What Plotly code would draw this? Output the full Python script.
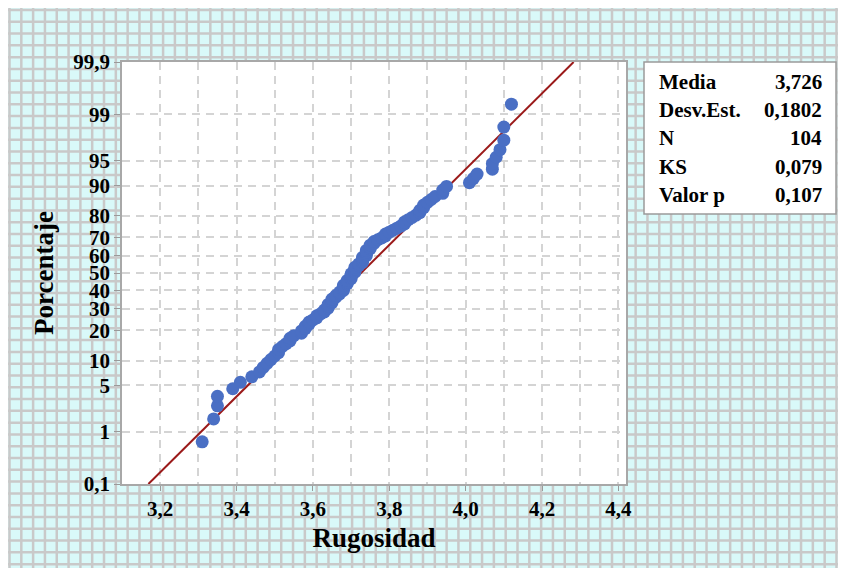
#!/usr/bin/env python3

"""
Normal probability plot of surface roughness (Rugosidad) with fitted line and
summary table, drawn on a graph-paper background.
"""

from statistics import NormalDist

import plotly.graph_objects as go

# Sorted roughness values (104 samples)
RUGOSIDAD_ = [
    3.31, 3.34, 3.35, 3.35, 3.39, 3.41, 3.44, 3.46, 3.47, 3.48,
    3.49, 3.50, 3.51, 3.51, 3.52, 3.53, 3.54, 3.54, 3.55, 3.57,
    3.57, 3.58, 3.58, 3.59, 3.59, 3.60, 3.61, 3.61, 3.62, 3.63,
    3.63, 3.64, 3.64, 3.64, 3.65, 3.65, 3.65, 3.66, 3.66, 3.67,
    3.67, 3.68, 3.68, 3.68, 3.68, 3.69, 3.69, 3.69, 3.70, 3.70,
    3.70, 3.70, 3.71, 3.71, 3.71, 3.71, 3.72, 3.72, 3.73, 3.73,
    3.73, 3.73, 3.74, 3.74, 3.74, 3.74, 3.75, 3.75, 3.75, 3.76,
    3.76, 3.77, 3.78, 3.79, 3.79, 3.80, 3.81, 3.82, 3.83, 3.84,
    3.84, 3.85, 3.86, 3.87, 3.88, 3.88, 3.89, 3.89, 3.90, 3.91,
    3.92, 3.94, 3.94, 3.95, 4.01, 4.02, 4.03, 4.07, 4.07, 4.08,
    4.09, 4.10, 4.10, 4.12,
]

# Summary table
STAT_LABELS_ = ["Media", "Desv.Est.", "N", "KS", "Valor p"]
STAT_VALUES_ = ["3,726", "0,1802", "104", "0,079", "0,107"]
MEDIA_ = 3.726
DESVEST_ = 0.1802

# Probability axis ticks (percent)
Y_TICKS_ = [0.1, 1, 5, 10, 20, 30, 40, 50, 60, 70, 80, 90, 95, 99, 99.9]
Y_TICKTEXT_ = ["0,1", "1", "5", "10", "20", "30", "40", "50", "60", "70",
               "80", "90", "95", "99", "99,9"]
X_TICKS_ = [3.2, 3.4, 3.6, 3.8, 4.0, 4.2, 4.4]

FONT_ = "Liberation Serif"
BLUE_ = "#4a6fc4"
RED_ = "#9b1a1a"
PAPER_ = "#d9f9f9"
PAPERLINE_ = "#c9c9c9"

# figure geometry in px (page has an 8px body margin)
OFF_ = 8
W_, H_ = 846, 568
L_, T_ = 114, 54
PW_, PH_ = 504, 422

ND_ = NormalDist()
Z_MAX_ = ND_.inv_cdf(0.999)


def px2paper(px, py):
    """Convert screen pixel position to paper coordinates."""
    return (px - OFF_ - L_) / PW_, (T_ + PH_ - (py - OFF_)) / PH_


def background_shapes():
    """Grid lines of the graph paper behind the whole figure."""
    shapes = []
    x0, y1 = px2paper(OFF_, OFF_)
    x1, y0 = px2paper(W_ + OFF_, H_ + OFF_)
    for k in range(72):
        xp, _ = px2paper(9.5 + 11.814 * k, 0)
        shapes.append(dict(type="line", xref="paper", yref="paper", layer="below",
                           x0=xp, x1=xp, y0=y0, y1=y1,
                           line={"color": PAPERLINE_, "width": 2.5}))
    for k in range(49):
        _, yp = px2paper(0, 10 + 11.79 * k)
        shapes.append(dict(type="line", xref="paper", yref="paper", layer="below",
                           x0=x0, x1=x1, y0=yp, y1=yp,
                           line={"color": PAPERLINE_, "width": 2.5}))
    return shapes


def stats_box():
    """White table with the summary statistics."""
    bx0, by0 = px2paper(644, 214)
    bx1, by1 = px2paper(836, 62)
    shapes = [dict(type="rect", xref="paper", yref="paper", layer="above",
                   x0=bx0, x1=bx1, y0=by0, y1=by1, fillcolor="white",
                   line={"color": "#9a9a9a", "width": 1.5})]
    annotations = []
    font = dict(family=FONT_, size=21, color="black", weight="bold")
    for i, (lab, val) in enumerate(zip(STAT_LABELS_, STAT_VALUES_)):
        lx, ly = px2paper(657, 81.5 + 28.4 * i)
        rx, _ = px2paper(824, 0)
        annotations.append(dict(x=lx, y=ly, xref="paper", yref="paper", text=lab,
                                showarrow=False, xanchor="left", yanchor="middle", font=font))
        annotations.append(dict(x=rx, y=ly, xref="paper", yref="paper", text=val,
                                showarrow=False, xanchor="right", yanchor="middle", font=font))
    return shapes, annotations


def main():
    n = len(RUGOSIDAD_)
    xs = sorted(RUGOSIDAD_)
    # Benard median ranks -> normal quantiles
    zs = [ND_.inv_cdf((i + 1 - 0.3) / (n + 0.4)) for i in range(n)]

    fig = go.Figure()

    # fitted normal line
    fig.add_trace(go.Scatter(
        x=[MEDIA_ - DESVEST_ * Z_MAX_, MEDIA_ + DESVEST_ * Z_MAX_],
        y=[-Z_MAX_, Z_MAX_],
        mode="lines", line={"color": RED_, "width": 2}, hoverinfo="skip"))

    fig.add_trace(go.Scatter(
        x=xs, y=zs, mode="markers",
        marker={"color": BLUE_, "size": 13, "line": {"width": 0}},
        hovertemplate="%{x}<extra></extra>"))

    grid = dict(gridcolor="#d4d4d4", gridwidth=2, griddash="8px,6px")
    tickfont = dict(family=FONT_, size=21, color="black", weight="bold")
    titlefont = dict(family=FONT_, size=27, color="black", weight="bold")

    shapes = background_shapes()
    # white plot area on top of the paper grid
    shapes.append(dict(type="rect", xref="x", yref="y", layer="below",
                       x0=3.1, x1=4.42, y0=-Z_MAX_, y1=Z_MAX_,
                       fillcolor="white", line={"width": 0}))
    box_shapes, annotations = stats_box()
    shapes += box_shapes

    fig.update_layout(
        width=W_, height=H_,
        margin={"l": L_, "r": W_ - L_ - PW_, "t": T_, "b": H_ - T_ - PH_},
        paper_bgcolor=PAPER_, plot_bgcolor="white",
        showlegend=False,
        separators=", ",
        shapes=shapes,
        annotations=annotations,
        xaxis=dict(
            range=[3.1, 4.42], tickvals=X_TICKS_, tickformat=".1f",
            ticks="outside", ticklen=5, tickcolor="#9a9a9a",
            showline=True, mirror=True, linecolor="#a8a8a8", linewidth=1.5,
            showgrid=True, zeroline=False, tickfont=tickfont,
            minor=dict(dtick=0.1, tick0=3.1, showgrid=True, ticks="", **grid),
            title=dict(text="Rugosidad", font=titlefont, standoff=8),
            **grid),
        yaxis=dict(
            range=[-Z_MAX_, Z_MAX_],
            tickvals=[ND_.inv_cdf(p / 100) for p in Y_TICKS_],
            ticktext=Y_TICKTEXT_,
            ticks="outside", ticklen=6, tickcolor="#9a9a9a",
            showline=True, mirror=True, linecolor="#a8a8a8", linewidth=1.5,
            showgrid=True, zeroline=False, tickfont=tickfont,
            title=dict(text="Porcentaje", font=titlefont, standoff=12),
            **grid),
    )

    fig.write_html("out.html")


if __name__ == "__main__":
    main()
